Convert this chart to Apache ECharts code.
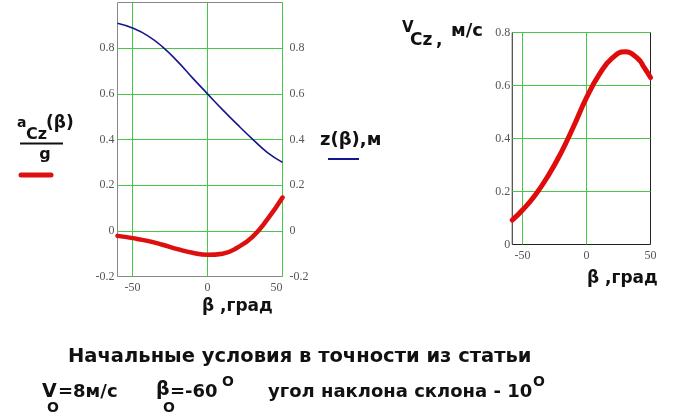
<!DOCTYPE html>
<html>
<head>
<meta charset="utf-8">
<script src="https://cdn.jsdelivr.net/npm/echarts@6/dist/echarts.min.js"></script>
<style>
html,body{margin:0;padding:0;background:#fff;}
#chart{width:700px;height:418px;}
</style>
</head>
<body>
<div id="chart"></div>
<script>
// ---- data ----
var betaLeft = [-60, -50, -40, -30, -20, -10, 0, 10, 20, 30, 40, 50];
var accelOverG = [-0.022, -0.032, -0.044, -0.061, -0.080, -0.096, -0.105, -0.100, -0.073, -0.026, 0.051, 0.146];
var zHeight = [0.909, 0.888, 0.855, 0.806, 0.742, 0.670, 0.600, 0.531, 0.465, 0.402, 0.343, 0.300];

var betaRight = [-58, -50, -40, -30, -20, -10, 0, 10, 20, 30, 40, 45, 50];
var velocityCz = [0.092, 0.130, 0.187, 0.259, 0.345, 0.446, 0.554, 0.642, 0.703, 0.727, 0.702, 0.668, 0.630];

var xTickLabels = [-50, 0, 50];
var yTickLabelsLeft = [-0.2, 0, 0.2, 0.4, 0.6, 0.8];
var yTickLabelsRight = [0, 0.2, 0.4, 0.6, 0.8];

function pairs(xs, ys) { return xs.map(function (x, i) { return [x, ys[i]]; }); }
function fmt(v) { return String(Math.round(v * 10) / 10); }

var GREEN = '#46c846';
var tickFont = { fontFamily: 'Liberation Serif', fontSize: 12, color: '#555' };

var chart = echarts.init(document.getElementById('chart'), null, { renderer: 'canvas' });

function T(text, x, y, size, opts) {
  opts = opts || {};
  return {
    type: 'text', z: 100,
    style: {
      text: text, x: x, y: y,
      font: (opts.weight || 'bold') + ' ' + size + 'px ' + (opts.family || '"DejaVu Sans"'),
      fill: opts.fill || '#111',
      textAlign: opts.align || 'left', align: opts.align || 'left',
      textVerticalAlign: 'middle', verticalAlign: 'middle'
    }
  };
}

var option = {
  animation: false,
  backgroundColor: '#fff',
  grid: [
    { left: 117.5, top: 2.5, width: 165, height: 274, show: true, borderColor: '#888', borderWidth: 1, backgroundColor: 'transparent' },
    { left: 512.26, top: 32.5, width: 138.24, height: 212, show: true, borderColor: '#222', borderWidth: 1, backgroundColor: 'transparent' }
  ],
  xAxis: [
    {
      type: 'value', gridIndex: 0, min: -60, max: 50,
      axisLine: { show: false },
      axisTick: { show: false, customValues: [-50, 0, 50] },
      axisLabel: Object.assign({ customValues: xTickLabels, margin: 5, alignMaxLabel: 'right', formatter: fmt }, tickFont),
      splitLine: { show: true, lineStyle: { color: GREEN, width: 1 } }
    },
    {
      type: 'value', gridIndex: 1, min: -58, max: 50,
      axisLine: { show: false },
      axisTick: { show: false, customValues: [-50, 0] },
      axisLabel: Object.assign({ customValues: xTickLabels, margin: 5, formatter: fmt }, tickFont),
      splitLine: { show: true, lineStyle: { color: GREEN, width: 1 } }
    }
  ],
  yAxis: [
    {
      type: 'value', gridIndex: 0, position: 'left', min: -0.2, max: 1.0, interval: 0.2,
      axisLine: { show: false },
      axisTick: { show: false, customValues: [0, 0.2, 0.4, 0.6, 0.8] },
      axisLabel: Object.assign({ customValues: yTickLabelsLeft, margin: 3, formatter: fmt }, tickFont),
      splitLine: { show: true, lineStyle: { color: GREEN, width: 1 } }
    },
    {
      type: 'value', gridIndex: 0, position: 'right', min: -0.2, max: 1.0, interval: 0.2,
      axisLine: { show: false },
      axisTick: { show: false, customValues: [0, 0.2, 0.4, 0.6, 0.8] },
      axisLabel: Object.assign({ customValues: yTickLabelsLeft, margin: 7, formatter: fmt }, tickFont),
      splitLine: { show: false }
    },
    {
      type: 'value', gridIndex: 1, position: 'left', min: 0, max: 0.8, interval: 0.2,
      axisLine: { show: false },
      axisTick: { show: false, customValues: [0.2, 0.4, 0.6, 0.8] },
      axisLabel: Object.assign({ customValues: yTickLabelsRight, margin: 2, formatter: fmt }, tickFont),
      splitLine: { show: true, lineStyle: { color: GREEN, width: 1 } }
    }
  ],
  series: [
    {
      type: 'line', xAxisIndex: 0, yAxisIndex: 1, data: pairs(betaLeft, zHeight),
      smooth: 0.5, showSymbol: false, lineStyle: { color: '#16168f', width: 1.6 }, z: 3
    },
    {
      type: 'line', xAxisIndex: 0, yAxisIndex: 0, data: pairs(betaLeft, accelOverG),
      smooth: 0.5, showSymbol: false, lineStyle: { color: '#dd1010', width: 4.5, cap: 'round' }, z: 4
    },
    {
      type: 'line', xAxisIndex: 1, yAxisIndex: 2, data: pairs(betaRight, velocityCz),
      smooth: 0.5, showSymbol: false, lineStyle: { color: '#e00c0c', width: 5, cap: 'round' }, z: 4
    }
  ],
  graphic: [
    // a_Cz(β)/g legend
    T('a', 17, 123, 14),
    T('Cz', 26, 135, 16),
    T('(β)', 46, 124, 17),
    { type: 'rect', z: 100, shape: { x: 20, y: 142.5, width: 43, height: 2 }, style: { fill: '#111' } },
    T('g', 45, 155, 16, { align: 'center' }),
    { type: 'line', z: 100, shape: { x1: 21, y1: 175, x2: 51, y2: 175 }, style: { stroke: '#dd1010', lineWidth: 5, lineCap: 'round' } },
    // z(β),м legend
    T('z(β),м', 320, 140, 18),
    { type: 'line', z: 100, shape: { x1: 328, y1: 159, x2: 359, y2: 159 }, style: { stroke: '#16168f', lineWidth: 2 } },
    // x axis titles
    T('β ,град', 202, 307, 17),
    T('β ,град', 587, 279, 17),
    // V_Cz, м/с
    T('V', 402, 28, 15),
    T('Cz', 410, 41, 17),
    T(',', 436, 41, 17),
    T('м/с', 451, 31, 18),
    // bottom text
    T('Начальные условия в точности из статьи', 68, 357, 19.5),
    T('V', 42, 392, 19),
    T('O', 47, 408, 14),
    T('=8м/с', 58, 392, 18),
    T('β', 156, 390, 19),
    T('O', 163, 408, 14),
    T('=-60', 170, 392, 18),
    T('O', 222, 382, 14),
    T('угол наклона склона - 10', 268, 392, 18),
    T('O', 533, 382, 14)
  ]
};
chart.setOption(option);
</script>
</body>
</html>
